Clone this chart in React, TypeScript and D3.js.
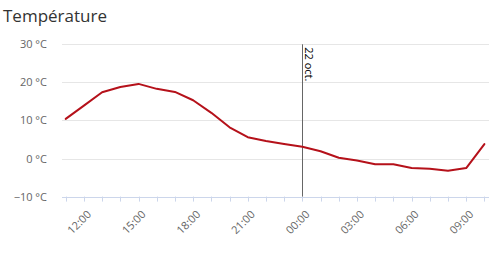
import React from "react";
import * as d3 from "d3";

const title = "Température";
const hours = [11,12,13,14,15,16,17,18,19,20,21,22,23,0,1,2,3,4,5,6,7,8,9,10];
const temps = [10.4,13.9,17.4,18.8,19.6,18.3,17.5,15.3,12.0,8.2,5.6,4.6,3.8,3.1,1.9,0.2,-0.5,-1.5,-1.5,-2.5,-2.7,-3.2,-2.5,3.8];
const yTicks = [-10, 0, 10, 20, 30];
const xTickHours = [12, 15, 18, 21, 0, 3, 6, 9];
const plotLineLabel = "22 oct.";

const W = 502, H = 266;
const font = "'Open Sans', sans-serif";

function toDate(i: number) {
  // consecutive hours starting 2020-10-21 11:00
  return new Date(2020, 9, 21, 11 + i, 0, 0);
}

export default function App() {
  const dates = hours.map((_, i) => toDate(i));
  const data = dates.map((d, i) => ({ d, v: temps[i] }));
  const x = d3.scaleTime().domain([dates[0], dates[dates.length - 1]]).range([65.7, 484.4]);
  const y = d3.scaleLinear().domain([-10, 30]).range([196.6, 44.3]);
  const line = d3.line<{ d: Date; v: number }>().x(p => x(p.d)).y(p => y(p.v));
  const allTicks = d3.timeHour.range(dates[0], new Date(dates[dates.length - 1].getTime() + 1));
  const labelTicks = allTicks.filter(t => xTickHours.includes(t.getHours()));
  const midnight = new Date(2020, 9, 22, 0, 0, 0);
  const axisLeft = 62, axisRight = 489;
  const yBase = y(-10);

  return (
    <svg width={W} height={H} style={{ position: "absolute", left: 0, top: 0, background: "#fff" }} fontFamily={font}>
      <text x={3} y={22} fontSize={17} fill="#333">{title}</text>
      {yTicks.filter(t => t !== -10).map(t => (
        <line key={t} x1={axisLeft} x2={axisRight} y1={Math.round(y(t)) + 0.5} y2={Math.round(y(t)) + 0.5} stroke="#e6e6e6" />
      ))}
      {yTicks.map(t => (
        <text key={t} x={47} y={y(t) + 4} fontSize={11} fill="#666" textAnchor="end">{`${t} °C`.replace("-", "−")}</text>
      ))}
      <line x1={axisLeft} x2={axisRight} y1={Math.round(yBase) + 0.5} y2={Math.round(yBase) + 0.5} stroke="#ccd6eb" />
      {allTicks.map((t, i) => (
        <line key={i} x1={Math.round(x(t)) + 0.5} x2={Math.round(x(t)) + 0.5} y1={yBase} y2={yBase + 5} stroke="#ccd6eb" />
      ))}
      {labelTicks.map((t, i) => (
        <text key={i} fontSize={11} fill="#666" textAnchor="end"
          transform={`translate(${x(t) + 8},215) rotate(-45)`}>{d3.timeFormat("%H:%M")(t)}</text>
      ))}
      <line x1={Math.round(x(midnight)) + 0.5} x2={Math.round(x(midnight)) + 0.5} y1={y(30)} y2={yBase} stroke="#666" strokeWidth={1} />
      <text fontSize={11} fill="#000" transform={`translate(${x(midnight) + 3},${y(30) + 3}) rotate(90)`}>{plotLineLabel}</text>
      <path d={line(data) ?? ""} fill="none" stroke="#b5111a" strokeWidth={2} strokeLinejoin="round" strokeLinecap="round" />
    </svg>
  );
}
